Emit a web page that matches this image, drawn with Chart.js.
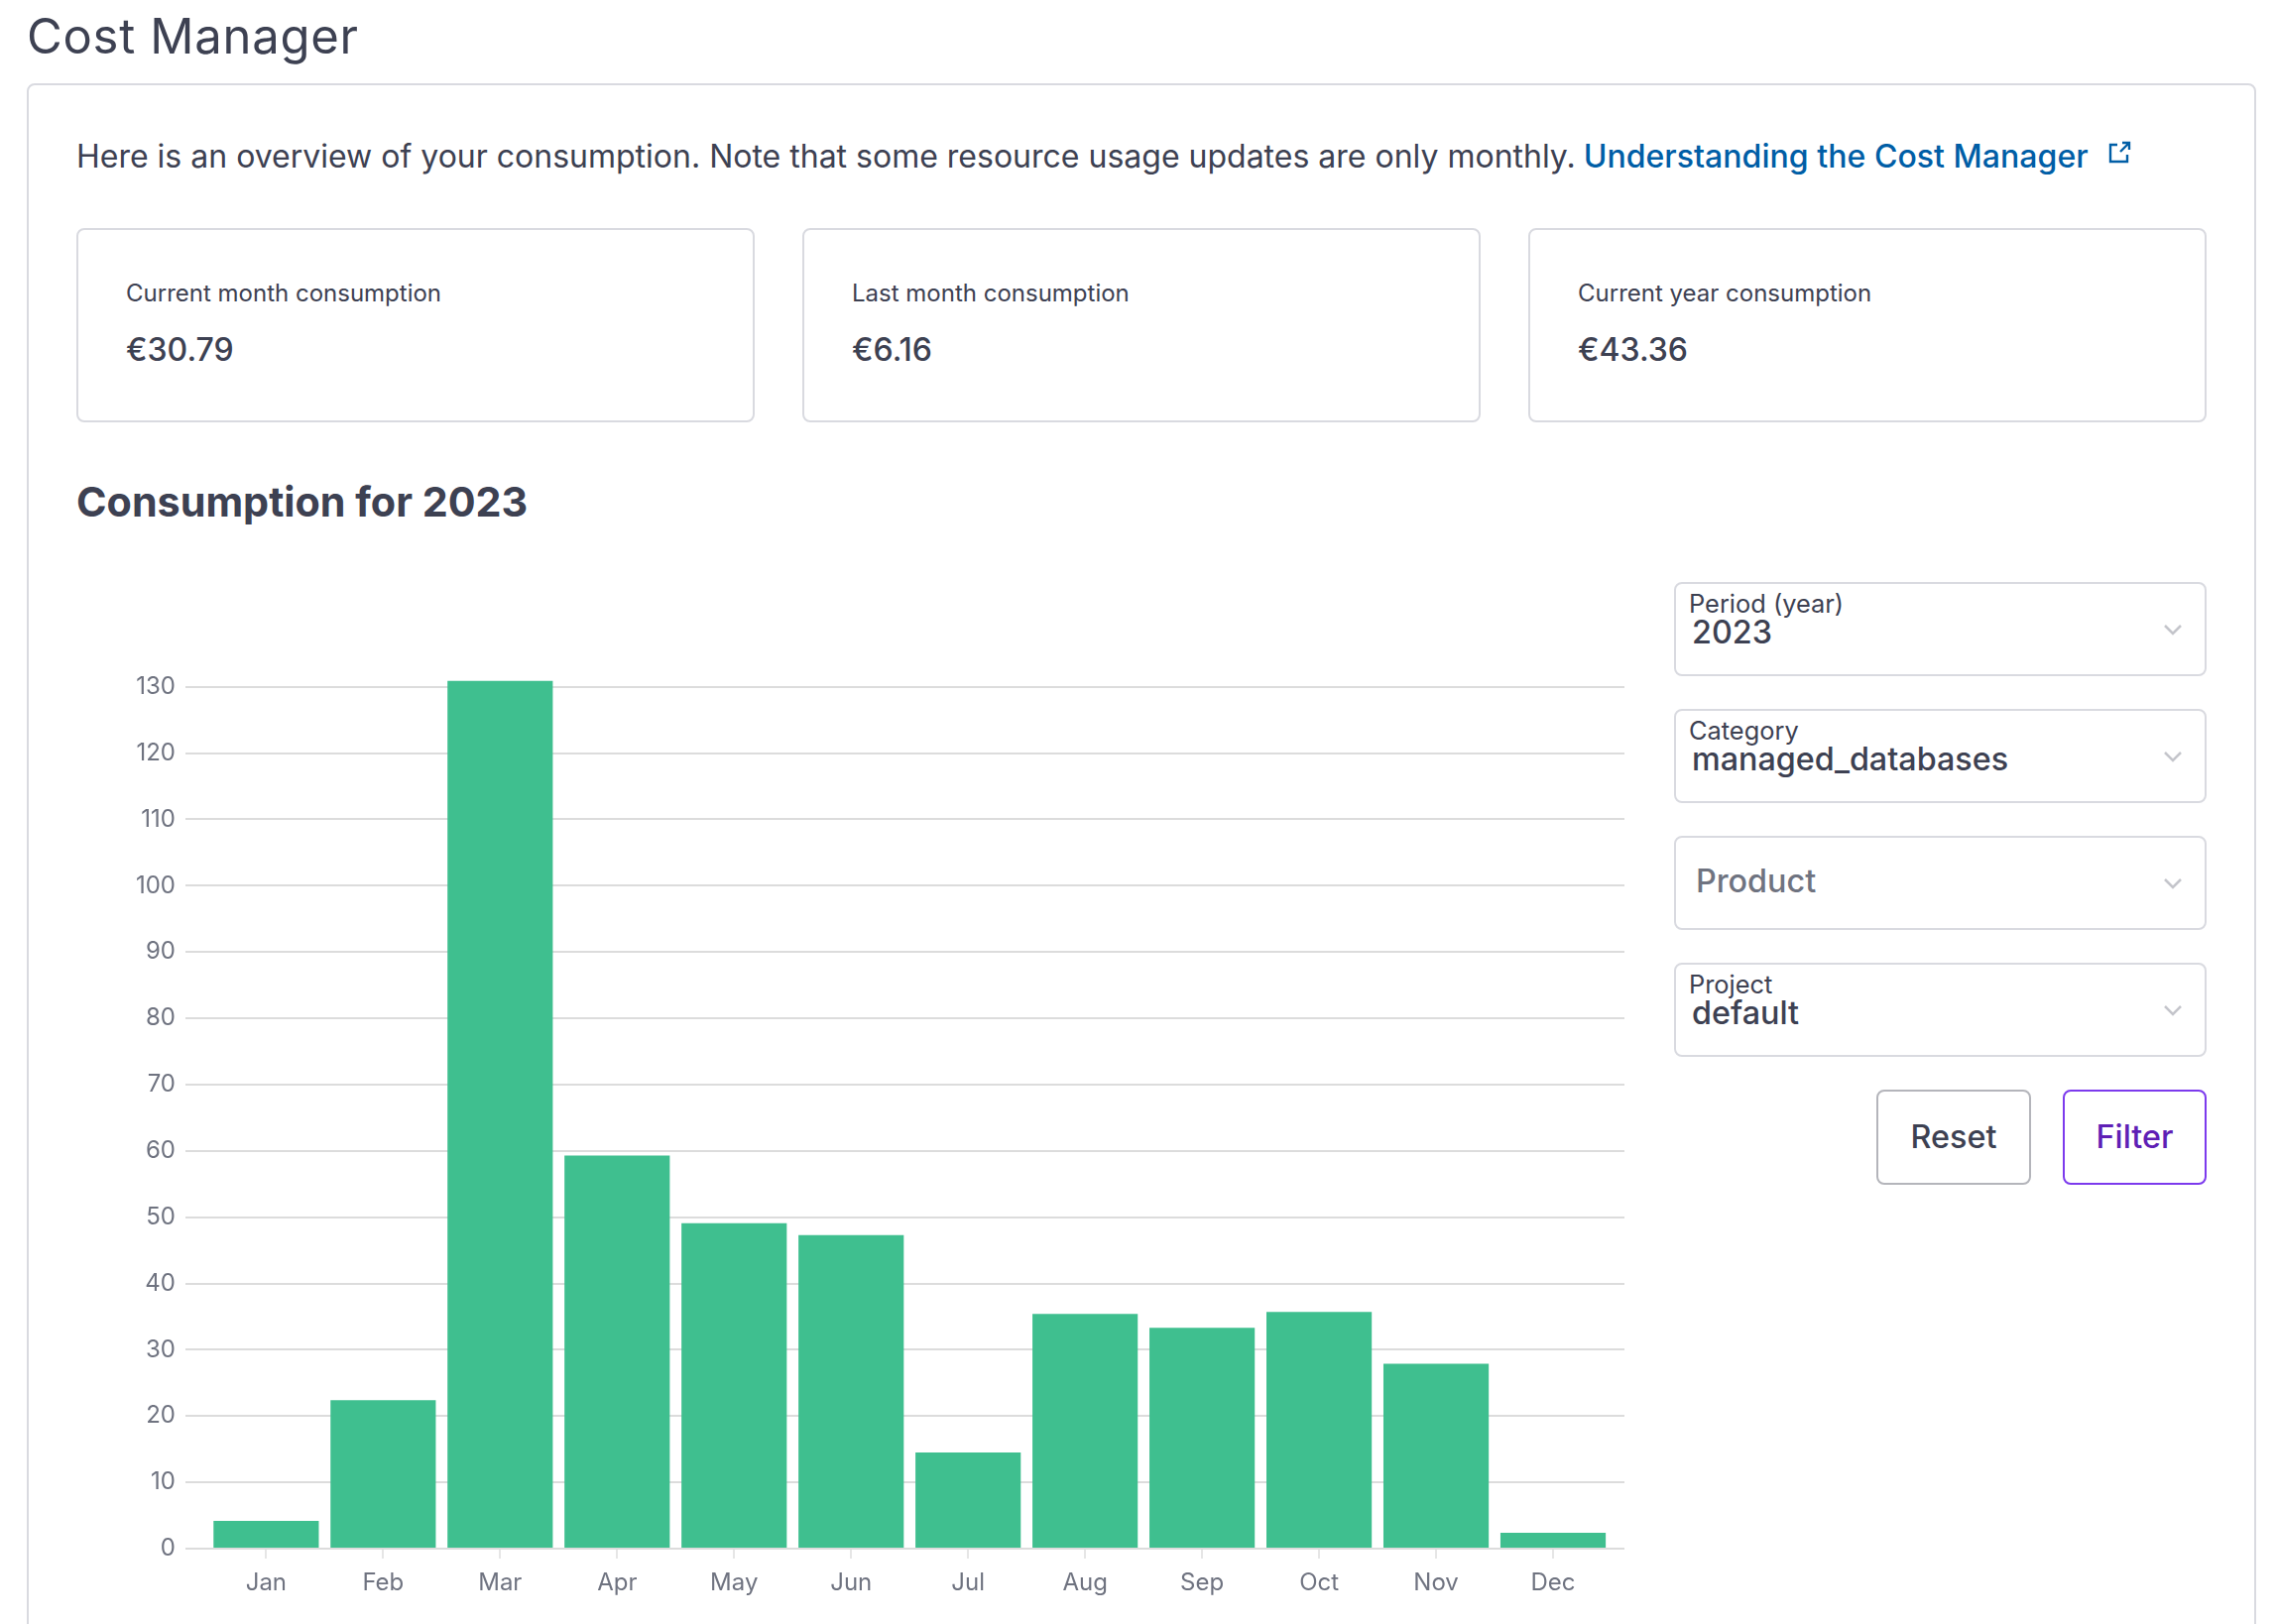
<!DOCTYPE html>
<html>
<head>
<meta charset="utf-8">
<title>Cost Manager</title>
<script src="https://cdn.jsdelivr.net/npm/chart.js@4/dist/chart.umd.min.js"></script>
<style>
    html, body { margin: 0; padding: 0; background: #fff; }
    body { position: relative; width: 2296px; height: 1638px; overflow: hidden; font-family: Inter, sans-serif; color: #3d4152; }
    .abs { position: absolute; white-space: nowrap; line-height: 1; }
    .title { left: 27px; top: 12px; font-size: 49px; font-weight: 400; letter-spacing: 0.7px; }
    .panel { position: absolute; left: 27px; top: 84px; width: 2248px; height: 1700px; border: 2px solid #d9dae0; border-radius: 8px; box-sizing: border-box; }
    .intro { left: 77px; top: 142px; font-size: 32px; }
    .intro a { color: #005ea6; font-weight: 500; text-decoration: none; margin-left: -1px; letter-spacing: 0.04px; }
    .box { position: absolute; top: 230px; width: 684px; height: 196px; border: 2px solid #d9dae0; border-radius: 8px; box-sizing: border-box; }
    .box .lbl { position: absolute; left: 48px; top: 52px; font-size: 24px; line-height: 1; white-space: nowrap; }
    .box .val { position: absolute; left: 48px; top: 105px; font-size: 32px; font-weight: 500; line-height: 1; white-space: nowrap; }
    .heading { left: 77px; top: 486px; font-size: 41.3px; font-weight: 700; }
    .field { position: absolute; left: 1688px; width: 537px; height: 95px; border: 2px solid #d9dae0; border-radius: 8px; box-sizing: border-box; }
    .field .lbl { position: absolute; left: 13px; top: 7px; font-size: 25.4px; line-height: 1; white-space: nowrap; }
    .field .val { position: absolute; left: 16px; top: 33px; font-size: 32.3px; font-weight: 500; line-height: 1; white-space: nowrap; }
    .field .ph { position: absolute; left: 20px; top: 28px; font-size: 32.3px; font-weight: 500; line-height: 1; color: #6f7380; }
    .field svg { position: absolute; left: 491px; top: 39px; }
    .btn { position: absolute; top: 1099px; height: 96px; border: 2px solid #b4b5bb; border-radius: 8px; box-sizing: border-box; font-size: 32.3px; font-weight: 500; line-height: 92px; text-align: center; }
    .btn.primary { border-color: #7c3aed; color: #5f1fb5; }
    #chart-wrap { position: absolute; left: 100px; top: 660px; width: 1560px; height: 978px; }
</style>
</head>
<body>
<div class="abs title">Cost Manager</div>
<div class="panel"></div>
<div class="abs intro">Here is an overview of your consumption. Note that some resource usage updates are only monthly. <a>Understanding the Cost Manager</a>
    <svg width="24" height="24" viewBox="0 0 24 24" fill="none" stroke="#005ea6" stroke-width="2.4" style="margin-left:10px;vertical-align:3px"><path d="M10 4H3v17h17v-7M13 11L22 2M15 2h7v7"/></svg>
</div>

<div class="box" style="left:77px"><div class="lbl">Current month consumption</div><div class="val">€30.79</div></div>
<div class="box" style="left:809px"><div class="lbl">Last month consumption</div><div class="val">€6.16</div></div>
<div class="box" style="left:1541px"><div class="lbl">Current year consumption</div><div class="val">€43.36</div></div>

<div class="abs heading">Consumption for 2023</div>

<div id="chart-wrap"><canvas id="consumption-chart"></canvas></div>

<div class="field" style="top:587px"><div class="lbl">Period (year)</div><div class="val">2023</div><svg width="20" height="14" viewBox="0 0 20 14" fill="none" stroke="#c4c5cb" stroke-width="2.5"><path d="M2 3l8 8 8-8"/></svg></div>
<div class="field" style="top:715px"><div class="lbl">Category</div><div class="val">managed_databases</div><svg width="20" height="14" viewBox="0 0 20 14" fill="none" stroke="#c4c5cb" stroke-width="2.5"><path d="M2 3l8 8 8-8"/></svg></div>
<div class="field" style="top:843px"><div class="ph">Product</div><svg width="20" height="14" viewBox="0 0 20 14" fill="none" stroke="#c4c5cb" stroke-width="2.5"><path d="M2 3l8 8 8-8"/></svg></div>
<div class="field" style="top:971px"><div class="lbl">Project</div><div class="val">default</div><svg width="20" height="14" viewBox="0 0 20 14" fill="none" stroke="#c4c5cb" stroke-width="2.5"><path d="M2 3l8 8 8-8"/></svg></div>
<div class="btn" style="left:1892px;width:156px">Reset</div>
<div class="btn primary" style="left:2080px;width:145px">Filter</div>

<script>
// Valores
const months = ['Jan', 'Feb', 'Mar', 'Apr', 'May', 'Jun', 'Jul', 'Aug', 'Sep', 'Oct', 'Nov', 'Dec'];
const consumption = [4.2, 22.4, 130.9, 59.3, 49.1, 47.3, 14.5, 35.4, 33.3, 35.7, 27.9, 2.4];

const points = months.map((m, i) => ({ x: i, y: consumption[i] }));

new Chart(document.getElementById('consumption-chart'), {
    type: 'bar',
    data: {
        datasets: [{
            data: points,
            backgroundColor: '#3fbf8f',
            categoryPercentage: 1,
            barPercentage: 0.9
        }]
    },
    options: {
        responsive: true,
        maintainAspectRatio: false,
        animation: false,
        layout: { padding: { top: 26, right: 22, bottom: 0, left: 0 } },
        plugins: { legend: { display: false }, tooltip: { enabled: false } },
        scales: {
            x: {
                type: 'linear',
                bounds: 'data',
                offset: false,
                min: -0.605,
                max: 11.61,
                // Una marca por mes, centrada en cada barra
                afterBuildTicks: scale => { scale.ticks = months.map((m, i) => ({ value: i })); },
                ticks: {
                    autoSkip: false,
                    maxRotation: 0,
                    padding: 10,
                    color: '#6f7380',
                    font: { family: 'Inter', size: 24 },
                    callback: v => months[v]
                },
                grid: { offset: false, drawOnChartArea: false, drawTicks: true, tickLength: 10, tickColor: '#e6e6e6', lineWidth: 2 },
                border: { display: false },
                afterFit: scale => { scale.height = 76; }
            },
            y: {
                min: 0,
                max: 131,
                ticks: {
                    stepSize: 10,
                    includeBounds: false,
                    padding: 10,
                    color: '#6f7380',
                    font: { family: 'Inter', size: 24 }
                },
                grid: { color: '#dcdcdc', lineWidth: 2, tickLength: 10 },
                border: { display: false },
                afterFit: scale => { scale.width = 97; }
            }
        }
    }
});
</script>
</body>
</html>
